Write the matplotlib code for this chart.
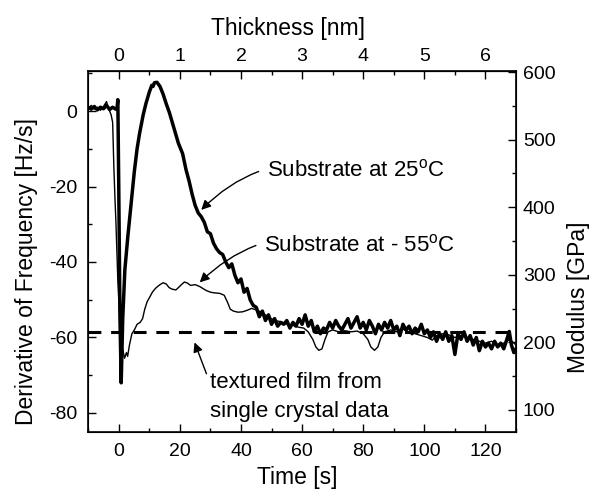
import matplotlib
matplotlib.use('Agg')
import matplotlib.pyplot as plt

plt.rcParams['font.family'] = ['Liberation Sans', 'DejaVu Sans']
plt.rcParams['mathtext.fontset'] = 'custom'
plt.rcParams['mathtext.rm'] = 'Liberation Sans'
plt.rcParams['axes.unicode_minus'] = False

# substrate at 25 C (thick curve)
t_25 = [-10, -9, -8, -7, -6, -5, -4, -3, -2, -1, -0.6, -0.3, 0.0, 0.4, 0.8, 1.3, 2.0, 3.0, 4.0, 5.1,
        6.0, 6.8, 8.0, 8.9, 10, 10.8, 11.2, 11.7, 12.5, 13.5, 14.5, 15.5, 16.6, 17.5, 18.6, 19.5,
        20.9, 22, 23, 24, 25, 26, 27, 28, 29, 30, 31, 32, 33, 34, 35, 36, 37, 38, 39, 40,
        41, 42, 43, 44, 45, 46, 47, 48, 49, 50, 51, 52, 53, 54, 55, 56, 57, 58, 59, 60,
        61, 62, 63, 64, 65, 66, 67, 68, 69, 70, 71, 72, 73, 74, 75, 76, 77, 78, 79, 80,
        81, 82, 83, 84, 85, 86, 87, 88, 89, 90, 91, 92, 93, 94, 95, 96, 97, 98, 99, 100,
        101, 102, 103, 104, 105, 106, 107, 108, 109, 110, 111, 112, 113, 114, 115, 116, 117, 118, 119, 120,
        121, 122, 123, 124, 125, 126, 127, 127.8, 128.5, 129.3, 130]
v_25 = [1.0, 0.5, 1.2, 0.3, 1.0, 0.6, 1.5, 0.4, 1.0, 0.5, 0.5, 3.0, -20, -55, -72, -55, -42, -33, -25, -16,
        -10, -6, -1, 2, 5, 6.8, 6.5, 7.5, 7.6, 6.5, 4.5, 2.0, -0.5, -3, -6, -8.5,
        -11.3, -15.5, -18.5, -22, -25, -27, -28, -29.5, -32, -32.5, -35, -36.5, -37.5, -38, -40, -41.5, -40.5, -43.5, -45.5, -44.5,
        -48, -47, -50, -51.5, -52, -54.5, -53, -55.5, -54, -56.5, -55, -57, -56, -56.5, -55.5, -57.5, -56, -57, -55, -56.5,
        -54, -57, -55.5, -58.5, -57, -59, -57.5, -58, -56, -57.5, -55.5, -57, -58, -56.5, -55, -57.5, -56, -54.5, -57.5, -56,
        -58, -55.5, -57, -59, -56.5, -58, -56, -57.5, -55.5, -58, -57, -59.5, -56.5, -58, -57, -59, -57.5, -58.5, -56.5, -59,
        -58, -60, -58.5, -61, -59, -60.5, -58.5, -61, -59.5, -64.5, -59, -60.5, -58.5, -61, -59.5, -62, -60, -63.5, -61, -62.5,
        -61.5, -63, -61, -62.5, -61.5, -63, -60.5, -58.4, -62, -64, -63]

# substrate at -55 C (thin curve)
t_55 = [-10, -9, -8, -7, -6, -5, -4, -3.5, -3, -2.5, -2, -1.6, -1.2, -0.9, -0.3, 0.3, 1.0, 1.9, 2.5, 2.9,
        3.5, 4.3, 5.1, 6, 7, 7.8, 8.5, 9.3, 10, 11, 12, 12.7, 13.5, 14.5, 15.5, 16.5, 17.5, 18.7, 19.5, 20.5,
        21.5, 22.5, 23.5, 25, 26.5, 27.5, 28.5, 30, 31.5, 33, 34.5, 35.5, 36.5, 37.5, 39, 40.5, 42, 43.5, 45, 46.5,
        48, 49.5, 51, 53, 55, 57, 59, 60.5, 62, 63.5, 64.5, 65.5, 66.5, 67.5, 68.5, 70, 72, 74, 76, 78,
        80, 81.5, 82.5, 83.7, 84.8, 85.8, 87, 89, 91, 93, 95, 97, 99, 101, 102.6, 104, 106, 108, 110, 112,
        114, 116, 118, 120, 122, 124, 126, 128, 130]
v_55 = [0.5, 1.5, 0.5, 1.0, 0.2, 1.2, 2.5, 1.0, 0.0, -1.0, -3, -15, -24, -30, -45, -55, -62, -65.5, -64, -65,
        -62, -59, -58, -56.5, -56, -55, -52.5, -50.5, -49.5, -48, -47, -46.5, -46, -45.5, -45.8, -46.8, -47.2, -47.4, -46.8, -46,
        -45.3, -45.6, -46.2, -46, -46.5, -47, -47.5, -48, -48.2, -48.3, -48.8, -50.5, -52.5, -53, -53.3, -53.2, -52.8, -52.3, -52.7, -53.2,
        -54, -54.8, -55.5, -55.8, -56.5, -56.8, -57.3, -57.5, -58.5, -60.5, -62.5, -63.4, -63, -60.5, -58.5, -58, -58.5, -58.2, -58.5, -58.3,
        -59, -60.5, -62.5, -63.4, -62.5, -60, -58.5, -58, -58.5, -57.8, -58.5, -59, -59.5, -60, -60.7, -59.5, -59, -59.3, -60, -59.5,
        -60.2, -60.5, -61, -61.5, -61, -61.8, -61.5, -60.5, -62]

single_crystal = -58.5

fig = plt.figure(figsize=(6, 4.93), dpi=100)
ax = fig.add_axes([0.147, 0.124, 0.713, 0.732])

ax.plot(t_55, v_55, color='black', lw=1.0)
ax.plot(t_25, v_25, color='black', lw=2.5)
ax.axhline(single_crystal, color='black', lw=2.2, linestyle=(0, (4.2, 3.2)))

ax.set_xlim(-10, 130)
ax.set_ylim(-85, 10.6)
ax.set_xticks([0, 20, 40, 60, 80, 100, 120])
ax.set_xticks(range(-10, 131, 10), minor=True)
ax.set_yticks([0, -20, -40, -60, -80])
ax.set_yticks(range(-80, 11, 10), minor=True)
ax.set_xlabel('Time [s]', fontsize=16.5, labelpad=4.5, x=0.488)
ax.set_ylabel('Derivative of Frequency [Hz/s]', fontsize=16.5, labelpad=8, y=0.445)
ax.tick_params(which='both', direction='in', labelsize=14, width=1)
ax.tick_params(which='major', length=6, pad=8)
ax.tick_params(which='minor', length=3)
for s in ax.spines.values():
    s.set_linewidth(1.2)

# thickness on top
top = ax.secondary_xaxis('top', functions=(lambda t: t / 20.0, lambda d: d * 20.0))
top.set_xticks([0, 1, 2, 3, 4, 5, 6])
top.set_xticks([0.5, 1.5, 2.5, 3.5, 4.5, 5.5], minor=True)
top.set_xlabel('Thickness [nm]', fontsize=16.5, labelpad=9.5, x=0.467)
top.tick_params(which='both', direction='in', labelsize=14, width=1)
top.tick_params(which='major', length=6, pad=4)
top.tick_params(which='minor', length=3)

# modulus on the right
ax2 = ax.twinx()
ax2.set_ylim(67.5, 601.5)
ax2.set_yticks([100, 200, 300, 400, 500, 600])
ax2.set_yticks([150, 250, 350, 450, 550], minor=True)
ax2.set_ylabel('Modulus [GPa]', fontsize=16.5, labelpad=8, y=0.374)
ax2.tick_params(which='both', direction='in', labelsize=14, width=1)
ax2.tick_params(which='major', length=6, pad=5)
ax2.tick_params(which='minor', length=3)

# annotations
ax.annotate(r'Substrate at 25$^\mathregular{o}$C', xy=(27, -26.2), xytext=(48.4, -15.8),
            fontsize=16, va='center', ha='left',
            arrowprops=dict(arrowstyle='-|>', color='black', lw=1.0, shrinkA=4, shrinkB=0,
                            mutation_scale=14, connectionstyle='arc3,rad=0.3'))
ax.annotate(r'Substrate at - 55$^\mathregular{o}$C', xy=(26.5, -45.4), xytext=(47.5, -35.6),
            fontsize=16, va='center', ha='left',
            arrowprops=dict(arrowstyle='-|>', color='black', lw=1.0, shrinkA=4, shrinkB=0,
                            mutation_scale=14, connectionstyle='arc3,rad=0.3'))
ax.annotate('', xy=(24.8, -61.3), xytext=(28.7, -69.6),
            arrowprops=dict(arrowstyle='-|>', color='black', lw=1.0, shrinkA=0, shrinkB=0,
                            mutation_scale=14))
ax.text(30, -71.8, 'textured film from', fontsize=16, va='center', ha='left')
ax.text(30, -79.6, 'single crystal data', fontsize=16, va='center', ha='left')

plt.savefig('out.png', dpi=100)
